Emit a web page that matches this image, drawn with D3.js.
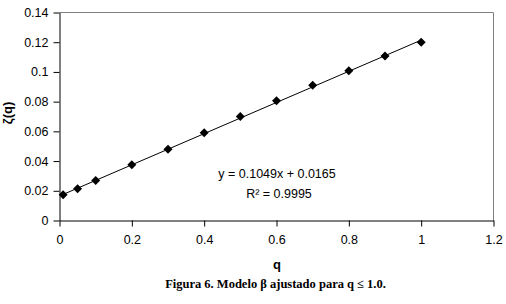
<!DOCTYPE html>
<html>
<head>
<meta charset="utf-8">
<script src="https://cdn.jsdelivr.net/npm/d3@7"></script>
<style>
  body { margin: 0; background: #fff; }
  svg { display: block; }
</style>
</head>
<body>
<div id="chart"></div>
<script>
// data
const qValues = [0.01, 0.05, 0.1, 0.2, 0.3, 0.4, 0.5, 0.6, 0.7, 0.8, 0.9, 1.0]
const zetaValues = [0.0174, 0.0214, 0.0270, 0.0376, 0.0480, 0.0590, 0.0700, 0.0806, 0.0910, 0.1008, 0.1108, 0.1200]
const xTicks = [0, 0.2, 0.4, 0.6, 0.8, 1, 1.2]
const yTicks = [0, 0.02, 0.04, 0.06, 0.08, 0.1, 0.12, 0.14]
const fitSlope = 0.1049
const fitIntercept = 0.0165
const equationLines = ["y = 0.1049x + 0.0165", "R² = 0.9995"]
const caption = "Figura 6. Modelo β ajustado para q ≤ 1.0."

const WIDTH = 506
const HEIGHT = 304
const PLOT = {LEFT: 59.5, RIGHT: 493.5, TOP: 12.5, BOTTOM: 220.5}

const data = qValues.map((q, i) => ({q: q, z: zetaValues[i]}))

let svg = d3.select("#chart").append("svg")
    .attr("width", WIDTH)
    .attr("height", HEIGHT)

let xScale = d3.scaleLinear().domain([0, 1.2]).range([PLOT.LEFT, PLOT.RIGHT])
let yScale = d3.scaleLinear().domain([0, 0.14]).range([PLOT.BOTTOM, PLOT.TOP])

// plot area border (grey top and right)
svg.append("path")
    .attr("d", `M${PLOT.LEFT},${PLOT.TOP}H${PLOT.RIGHT}V${PLOT.BOTTOM}`)
    .attr("fill", "none")
    .attr("stroke", "#808080")
    .attr("stroke-width", 1)

// axes
let xAxis = svg.append("g")
    .attr("transform", `translate(0,${PLOT.BOTTOM})`)
    .call(d3.axisBottom(xScale).tickValues(xTicks).tickSize(6).tickPadding(9).tickSizeOuter(0).tickFormat(d => String(d)))

let yAxis = svg.append("g")
    .attr("transform", `translate(${PLOT.LEFT},0)`)
    .call(d3.axisLeft(yScale).tickValues(yTicks).tickSize(6).tickPadding(5).tickSizeOuter(0).tickFormat(d => String(d)))

svg.selectAll(".tick text")
    .style("font-family", "'Liberation Sans', Arial, sans-serif")
    .style("font-size", "12.5px")
    .attr("fill", "#000")
svg.selectAll(".domain, .tick line").attr("stroke", "#000")

// trendline over the data range
let xExtent = d3.extent(qValues)
svg.append("line")
    .attr("x1", xScale(xExtent[0]))
    .attr("y1", yScale(fitSlope * xExtent[0] + fitIntercept))
    .attr("x2", xScale(xExtent[1]))
    .attr("y2", yScale(fitSlope * xExtent[1] + fitIntercept))
    .attr("stroke", "#000")
    .attr("stroke-width", 1)

// diamond markers
svg.selectAll(".pt")
    .data(data)
    .enter()
    .append("path")
        .attr("class", "pt")
        .attr("d", "M0,-4.5L4.5,0L0,4.5L-4.5,0Z")
        .attr("transform", d => `translate(${xScale(d.q)},${yScale(d.z)})`)
        .attr("fill", "#000")

// equation label
let eq = svg.append("text")
    .attr("text-anchor", "middle")
    .style("font-family", "'Liberation Sans', Arial, sans-serif")
    .style("font-size", "12.5px")
eq.append("tspan").attr("x", 277).attr("y", 178).text(equationLines[0])
eq.append("tspan").attr("x", 279).attr("y", 198).text(equationLines[1])

// axis titles
svg.append("text")
    .attr("x", 277)
    .attr("y", 269)
    .attr("text-anchor", "middle")
    .style("font-family", "'Liberation Sans', Arial, sans-serif")
    .style("font-size", "13px")
    .style("font-weight", "bold")
    .text("q")

svg.append("text")
    .attr("transform", "translate(12,113) rotate(-90)")
    .attr("text-anchor", "middle")
    .style("font-family", "'Liberation Sans', Arial, sans-serif")
    .style("font-size", "13px")
    .style("font-weight", "bold")
    .text("ζ(q)")

// figure caption
svg.append("text")
    .attr("x", 275.5)
    .attr("y", 288)
    .attr("text-anchor", "middle")
    .style("font-family", "'Liberation Serif', 'Times New Roman', serif")
    .style("font-size", "12.5px")
    .style("font-weight", "bold")
    .text(caption)
</script>
</body>
</html>
